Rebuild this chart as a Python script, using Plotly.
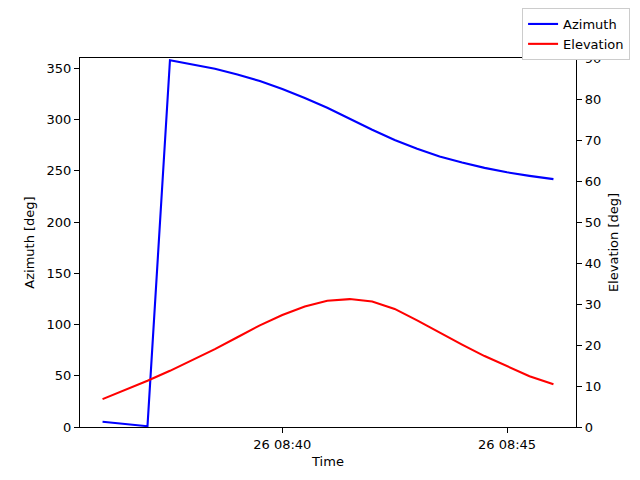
import plotly.graph_objects as go
import pandas as pd

# sample times (30 s steps)
times = [
    "2024-01-26 08:36:00", "2024-01-26 08:36:30", "2024-01-26 08:37:00",
    "2024-01-26 08:37:30", "2024-01-26 08:38:00", "2024-01-26 08:38:30",
    "2024-01-26 08:39:00", "2024-01-26 08:39:30", "2024-01-26 08:40:00",
    "2024-01-26 08:40:30", "2024-01-26 08:41:00", "2024-01-26 08:41:30",
    "2024-01-26 08:42:00", "2024-01-26 08:42:30", "2024-01-26 08:43:00",
    "2024-01-26 08:43:30", "2024-01-26 08:44:00", "2024-01-26 08:44:30",
    "2024-01-26 08:45:00", "2024-01-26 08:45:30", "2024-01-26 08:46:02",
]
azimuth = [5.2, 3.1, 0.8, 357.8, 354.0, 349.5, 344.0, 337.5, 329.7, 321.0,
           311.5, 300.5, 290.0, 280.0, 271.5, 264.0, 258.0, 252.8, 248.5,
           245.0, 241.8]
elevation = [6.8, 9.0, 11.3, 13.7, 16.3, 19.0, 21.9, 24.8, 27.3, 29.4,
             30.8, 31.2, 30.6, 28.8, 26.0, 23.0, 20.1, 17.3, 14.8, 12.4,
             10.4]

FONT = "DejaVu Sans"

fig = go.Figure()

fig.add_trace(go.Scatter(
    x=times, y=azimuth, mode="lines", name="Azimuth",
    line=dict(color="blue", width=2.1), yaxis="y"
))
fig.add_trace(go.Scatter(
    x=times, y=elevation, mode="lines", name="Elevation",
    line=dict(color="red", width=2.1), yaxis="y2"
))

# matplotlib-style 5% padding on the time axis
t = pd.to_datetime(times)
pad = (t[-1] - t[0]) * 0.05
xr = [t[0] - pad, t[-1] + pad]

axis_style = dict(
    showline=True, linecolor="black", linewidth=1.1,
    ticks="outside", ticklen=5, tickwidth=1.1, tickcolor="black",
    showgrid=False, zeroline=False,
    tickfont=dict(family=FONT, size=13, color="black"),
)

# page body adds an 8px offset, so margins are shifted to compensate
fig.update_layout(
    width=640, height=480,
    margin=dict(l=72, r=72, t=50, b=61, autoexpand=False),
    paper_bgcolor="white", plot_bgcolor="white",
    font=dict(family=FONT, size=13, color="black"),
    xaxis=dict(
        range=xr, tickformat="%d %H:%M",
        tick0="2024-01-26 08:40:00", dtick=300000,
        mirror=True, title=dict(text="Time", font=dict(size=13), standoff=6),
        **axis_style
    ),
    yaxis=dict(
        range=[0, 360], tick0=0, dtick=50,
        title=dict(text="Azimuth [deg]", font=dict(size=13), standoff=8),
        **axis_style
    ),
    yaxis2=dict(
        range=[0, 90], tick0=0, dtick=10, overlaying="y", side="right",
        title=dict(text="Elevation [deg]", font=dict(size=13), standoff=8),
        **axis_style
    ),
    legend=dict(
        x=1.109, y=1.1355, xanchor="right", yanchor="top",
        bgcolor="white", bordercolor="#cccccc", borderwidth=1,
        font=dict(family=FONT, size=13),
        itemwidth=30, tracegroupgap=0,
    ),
    showlegend=True,
)

fig.write_html("out.html")
